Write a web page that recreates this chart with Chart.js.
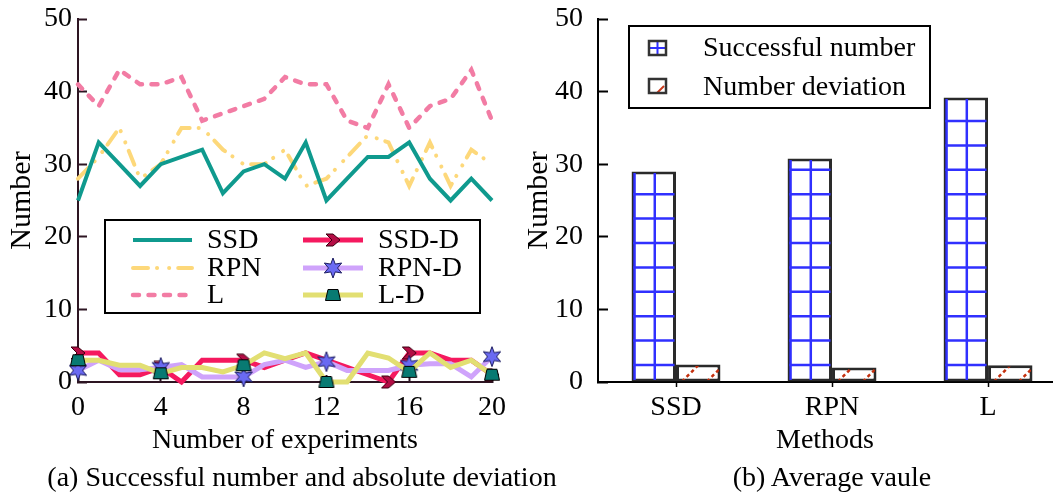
<!DOCTYPE html>
<html>
<head>
<meta charset="utf-8">
<title>Successful number and deviation</title>
<script src="https://cdn.jsdelivr.net/npm/chart.js@4.4.1/dist/chart.umd.min.js"></script>
<style>
  html, body { margin: 0; padding: 0; background: #fff; overflow: hidden; }
  #wrap { position: relative; width: 1057px; height: 495px; }
  #wrap canvas { position: absolute; left: 0; top: 0; }
  .caption {
    position: absolute; top: 461px; line-height: 34px;
    font: 28px "Liberation Serif", "Times New Roman", serif; color: #000;
    white-space: nowrap; transform: translateX(-50%);
  }
</style>
</head>
<body>
<div id="wrap">
  <canvas id="lineChart" width="1057" height="495"></canvas>
  <canvas id="barChart" width="1057" height="495"></canvas>
  <div class="caption" style="left:302px">(a) Successful number and absolute deviation</div>
  <div class="caption" style="left:832px">(b) Average vaule</div>
</div>
<script>
// =============== DATA ===============

// (a) per experiment
const experiments = [0, 1, 2, 3, 4, 5, 6, 7, 8, 9, 10, 11, 12, 13, 14, 15, 16, 17, 18, 19, 20];
const ssd  = [25, 33, 30, 27, 30, 31, 32, 26, 29, 30, 28, 33, 25, 28, 31, 31, 33, 28, 25, 28, 25];
const rpn  = [28, 31, 35, 28, 30, 35, 35, 32, 30, 30, 32, 27, 28, 31, 34, 33, 27, 33, 27, 32, 30];
const l    = [41, 38, 43, 41, 41, 42, 36, 37, 38, 39, 42, 41, 41, 36, 35, 41, 35, 38, 39, 43, 36];
const ssdD = [4, 4, 1, 1, 2, 0, 3, 3, 3, 2, 3, 4, 3, 2, 1, 0, 4, 4, 3, 3, 1];
const rpnD = [1.6, 3, 1.7, 1.7, 2, 2.4, 0.7, 0.7, 0.7, 2.4, 3, 2, 2.8, 1.6, 1.6, 1.6, 2.3, 2.5, 2.5, 0.7, 3.5];
const lD   = [3, 3, 2.3, 2.3, 1.2, 2, 2, 1.4, 2.3, 4, 3.2, 4, 0, 0, 4, 3.3, 1.4, 4, 2, 3, 1];

// (b) averages
const methods = ["SSD", "RPN", "L"];
const successfulNumber = [29, 30.8, 39.2];
const numberDeviation = [2.4, 2.0, 2.3];


// =============== MARKERS ===============

Chart.defaults.font.family = '"Liberation Serif", "Times New Roman", serif';
Chart.defaults.font.size = 28;
Chart.defaults.color = "#000";

function makeMarker(w, h, draw) {
  const c = document.createElement("canvas");
  c.width = w;
  c.height = h;
  draw(c.getContext("2d"));
  return c;
}

const chevron = makeMarker(16, 14, (g) => {
  g.beginPath();
  g.moveTo(1, 1); g.lineTo(8, 1); g.lineTo(15, 7);
  g.lineTo(8, 13); g.lineTo(1, 13); g.lineTo(7, 7);
  g.closePath();
  g.fillStyle = "#b30d45";
  g.fill();
  g.strokeStyle = "#3a0010";
  g.lineWidth = 1;
  g.stroke();
});

const star = makeMarker(22, 22, (g) => {
  g.beginPath();
  for (let i = 0; i < 12; i++) {
    const r = i % 2 ? 4.5 : 10;
    const a = -Math.PI / 2 + (i * Math.PI) / 6;
    const px = 11 + r * Math.cos(a), py = 11 + r * Math.sin(a);
    if (i) g.lineTo(px, py); else g.moveTo(px, py);
  }
  g.closePath();
  g.fillStyle = "#6a6af2";
  g.fill();
  g.strokeStyle = "#1c1c60";
  g.lineWidth = 1;
  g.stroke();
});

const trapezoid = makeMarker(18, 14, (g) => {
  g.beginPath();
  g.moveTo(4, 1.5); g.lineTo(14, 1.5); g.lineTo(16.5, 12.5); g.lineTo(1.5, 12.5);
  g.closePath();
  g.fillStyle = "#087a72";
  g.fill();
  g.strokeStyle = "#000";
  g.lineWidth = 1;
  g.stroke();
});

const toPoints = (vals) => vals.map((v, i) => ({ x: experiments[i], y: v }));
const markersAt = (idx) => experiments.map((e) => (idx.includes(e) ? 6 : 0));

// keep the chart area where the layout padding puts it (no extra room for edge labels)
const noEdgePadding = (s) => {
  s.paddingTop = 0;
  s.paddingBottom = 0;
  s.paddingLeft = 0;
  s.paddingRight = 0;
};


// =============== LEGENDS ===============

const lineLegend = {
  id: "lineLegend",
  afterDraw(chart) {
    const ctx = chart.ctx;
    const layout = [["SSD", "SSD-D"], ["RPN", "RPN-D"], ["L", "L-D"]];
    const rows = [240, 268, 295];
    const cols = [{ x0: 133, x1: 192, tx: 207 }, { x0: 303, x1: 363, tx: 378 }];
    ctx.save();
    ctx.strokeStyle = "#000";
    ctx.lineWidth = 2;
    ctx.strokeRect(105, 220, 375, 93);
    layout.forEach((row, r) => {
      row.forEach((label, c) => {
        const ds = chart.data.datasets.find((d) => d.label === label);
        const y = rows[r], col = cols[c];
        ctx.save();
        ctx.strokeStyle = ds.borderColor;
        ctx.lineWidth = ds.borderWidth;
        ctx.lineCap = ds.borderCapStyle || "butt";
        ctx.setLineDash(ds.borderDash || []);
        ctx.beginPath();
        ctx.moveTo(col.x0, y);
        ctx.lineTo(col.x1, y);
        ctx.stroke();
        ctx.restore();
        if (ds.pointStyle && typeof ds.pointStyle === "object") {
          const m = ds.pointStyle;
          ctx.drawImage(m, (col.x0 + col.x1) / 2 - m.width / 2, y - m.height / 2);
        }
        ctx.fillStyle = "#000";
        ctx.font = '28px "Liberation Serif", "Times New Roman", serif';
        ctx.textBaseline = "middle";
        ctx.fillText(label, col.tx, y + 1);
      });
    });
    ctx.restore();
  },
};

function drawGridIcon(ctx, x, y, w, h) {
  ctx.save();
  ctx.strokeStyle = "#3030ff";
  ctx.lineWidth = 2;
  ctx.beginPath();
  ctx.moveTo(x + w / 2, y); ctx.lineTo(x + w / 2, y + h);
  ctx.moveTo(x, y + h / 2); ctx.lineTo(x + w, y + h / 2);
  ctx.stroke();
  ctx.strokeStyle = "#333";
  ctx.lineWidth = 2.5;
  ctx.strokeRect(x, y, w, h);
  ctx.restore();
}

function drawHatchIcon(ctx, x, y, w, h) {
  ctx.save();
  ctx.strokeStyle = "#c8381a";
  ctx.lineWidth = 2;
  ctx.beginPath();
  ctx.moveTo(x + w - 9, y + h); ctx.lineTo(x + w - 2, y + h - 7);
  ctx.stroke();
  ctx.strokeStyle = "#333";
  ctx.lineWidth = 2.5;
  ctx.strokeRect(x, y, w, h);
  ctx.restore();
}

const barLegend = {
  id: "barLegend",
  afterDraw(chart) {
    const ctx = chart.ctx;
    ctx.save();
    ctx.strokeStyle = "#000";
    ctx.lineWidth = 2;
    ctx.strokeRect(629, 26, 301, 82);
    drawGridIcon(ctx, 649, 41, 17, 14);
    drawHatchIcon(ctx, 649, 79, 17, 14);
    ctx.fillStyle = "#000";
    ctx.font = '28px "Liberation Serif", "Times New Roman", serif';
    ctx.textBaseline = "middle";
    ctx.fillText(chart.data.datasets[0].label, 703, 49);
    ctx.fillText(chart.data.datasets[1].label, 703, 88);
    ctx.restore();
  },
};

// blue grid inside the "successful" bars, dashed diagonals inside the deviation bars
const barPatterns = {
  id: "barPatterns",
  afterDatasetsDraw(chart) {
    const ctx = chart.ctx;
    chart.getDatasetMeta(0).data.forEach((bar) => {
      const { x, y, base, width } = bar.getProps(["x", "y", "base", "width"], true);
      const left = x - width / 2;
      ctx.save();
      ctx.beginPath();
      ctx.rect(left + 1.5, y + 1.5, width - 3, base - y - 3);
      ctx.clip();
      ctx.strokeStyle = "#3030ff";
      ctx.lineWidth = 2.5;
      ctx.beginPath();
      ctx.moveTo(left + 3, y); ctx.lineTo(left + 3, base);
      ctx.moveTo(left + width / 2 + 1, y); ctx.lineTo(left + width / 2 + 1, base);
      for (let hy = base - 16.5; hy > y; hy -= 24.4) {
        ctx.moveTo(left, hy); ctx.lineTo(left + width, hy);
      }
      ctx.stroke();
      ctx.restore();
    });
    chart.getDatasetMeta(1).data.forEach((bar) => {
      const { x, y, base, width } = bar.getProps(["x", "y", "base", "width"], true);
      const left = x - width / 2;
      const h = base - y;
      ctx.save();
      ctx.beginPath();
      ctx.rect(left + 1.5, y + 1.5, width - 3, h - 3);
      ctx.clip();
      ctx.strokeStyle = "#c4300e";
      ctx.lineWidth = 2.5;
      ctx.setLineDash([3.5, 3]);
      ctx.beginPath();
      for (let x0 = left + 6; x0 < left + width; x0 += 25) {
        ctx.moveTo(x0, base); ctx.lineTo(x0 + h, y);
      }
      ctx.stroke();
      ctx.restore();
    });
  },
};


// =============== (a) LINE CHART ===============

const axisA = "#2d1522";

new Chart(document.getElementById("lineChart"), {
  type: "line",
  data: {
    datasets: [
      {
        label: "SSD", data: toPoints(ssd), order: 3,
        borderColor: "#0f9a8e", borderWidth: 4, pointRadius: 0,
      },
      {
        label: "RPN", data: toPoints(rpn), order: 4,
        borderColor: "#fdd87a", borderWidth: 4, pointRadius: 0,
        borderDash: [15, 9, 0.1, 12, 0.1, 9], borderCapStyle: "round",
      },
      {
        label: "L", data: toPoints(l), order: 5,
        borderColor: "#f27ca4", borderWidth: 4.5, pointRadius: 0,
        borderDash: [6, 9.5], borderCapStyle: "round",
      },
      {
        label: "SSD-D", data: toPoints(ssdD), order: 2,
        borderColor: "#f5195f", borderWidth: 5,
        pointStyle: chevron, pointRadius: markersAt([0, 4, 8, 15, 16, 20]),
      },
      {
        label: "RPN-D", data: toPoints(rpnD), order: 1,
        borderColor: "#cfa3fb", borderWidth: 5,
        pointStyle: star, pointRadius: markersAt([0, 4, 8, 12, 16, 20]),
      },
      {
        label: "L-D", data: toPoints(lD), order: 0,
        borderColor: "#e2df72", borderWidth: 5,
        pointStyle: trapezoid, pointRadius: markersAt([0, 4, 8, 12, 16, 20]),
      },
    ].map((d) => ({ ...d, clip: false, tension: 0, borderJoinStyle: "miter" })),
  },
  options: {
    responsive: false,
    animation: false,
    layout: { padding: { left: 0, right: 565, top: 19, bottom: 33 } },
    plugins: { legend: { display: false }, tooltip: { enabled: false } },
    scales: {
      x: {
        type: "linear", min: 0, max: 20,
        ticks: { stepSize: 4, padding: 16 },
        grid: { drawOnChartArea: false, tickLength: -7, color: axisA, tickWidth: 2 },
        border: { color: axisA, width: 2 },
        title: { display: true, text: "Number of experiments", padding: { top: 0, bottom: 5 } },
        afterFit: (s) => { s.height = 80; noEdgePadding(s); },
      },
      y: {
        min: 0, max: 50,
        ticks: { stepSize: 10, padding: 15 },
        grid: { drawOnChartArea: false, tickLength: -9, color: axisA, tickWidth: 2 },
        border: { color: axisA, width: 2 },
        title: { display: true, text: "Number", font: { size: 30 }, padding: { top: 4, bottom: 0 } },
        afterFit: (s) => { s.width = 78; noEdgePadding(s); },
      },
    },
  },
  plugins: [lineLegend],
});


// =============== (b) BAR CHART ===============

new Chart(document.getElementById("barChart"), {
  type: "bar",
  data: {
    datasets: [
      {
        label: "Successful number",
        data: successfulNumber.map((v, i) => ({ x: i, y: v })),
      },
      {
        label: "Number deviation",
        data: numberDeviation.map((v, i) => ({ x: i, y: v })),
      },
    ].map((d) => ({
      ...d,
      backgroundColor: "#fff", borderColor: "#2a2a2a", borderWidth: 3,
      borderSkipped: false, categoryPercentage: 0.57, barPercentage: 1,
    })),
  },
  options: {
    responsive: false,
    animation: false,
    layout: { padding: { left: 520, right: 5, top: 19, bottom: 33 } },
    plugins: { legend: { display: false }, tooltip: { enabled: false } },
    scales: {
      x: {
        type: "linear", min: -0.5, max: 2.41, offset: false,
        afterBuildTicks: (axis) => { axis.ticks = methods.map((_, i) => ({ value: i })); },
        ticks: { callback: (v) => methods[v], padding: 4 },
        grid: { offset: false, drawOnChartArea: false, tickLength: 5, color: "#000", tickWidth: 1.5 },
        border: { color: "#000", width: 2 },
        title: { display: true, text: "Methods", padding: { top: 0, bottom: 5 } },
        afterFit: (s) => { s.height = 80; noEdgePadding(s); },
      },
      y: {
        min: 0, max: 50,
        ticks: { stepSize: 10, padding: 25 },
        grid: { drawOnChartArea: false, tickLength: -10, color: "#000", tickWidth: 2 },
        border: { color: "#000", width: 2 },
        title: { display: true, text: "Number", font: { size: 30 }, padding: { top: 1, bottom: 0 } },
        afterFit: (s) => { s.width = 78; noEdgePadding(s); },
      },
    },
  },
  plugins: [barPatterns, barLegend],
});
</script>
</body>
</html>
